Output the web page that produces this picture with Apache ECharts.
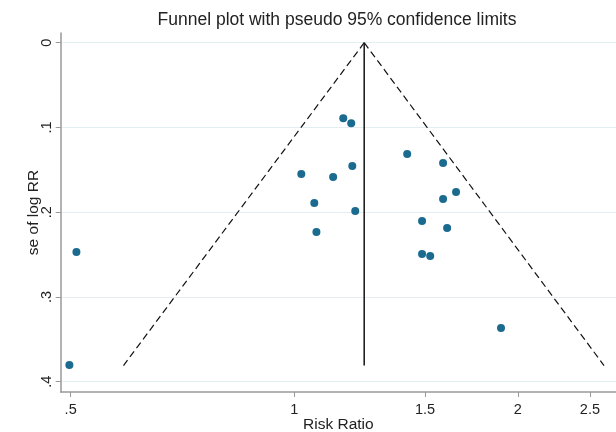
<!DOCTYPE html>
<html>
<head>
<meta charset="utf-8">
<script src="https://cdn.jsdelivr.net/npm/echarts@6/dist/echarts.min.js"></script>
<style>html,body{margin:0;padding:0;background:#fff}#c{width:616px;height:432px}</style>
</head>
<body>
<div id="c"></div>
<script>
// Study estimates: [Risk Ratio, se of log RR]
var riskRatio = [1.164, 1.193, 1.419, 1.586, 1.022, 1.128, 1.197, 1.651, 1.586, 1.064, 1.208, 1.486, 1.606, 1.071, 1.486, 1.524, 0.509, 1.898, 0.498];
var seLogRR   = [0.0892, 0.0951, 0.1313, 0.1419, 0.1549, 0.1584, 0.1455, 0.1762, 0.1844, 0.1891, 0.1986, 0.2104, 0.2187, 0.2234, 0.2493, 0.2517, 0.2470, 0.3366, 0.3803];
// Pooled estimate line and pseudo 95% limits
var pooledLine = [[1.242, 0], [1.242, 0.381]];
var lowerLimit = [[1.242, 0], [0.589, 0.381]];
var upperLimit = [[1.242, 0], [2.612, 0.381]];
var xTicks = [0.5, 1, 1.5, 2, 2.5];
var yTicks = [0, 0.1, 0.2, 0.3, 0.4];

var points = riskRatio.map(function (r, i) { return [r, seLogRR[i]]; });
function fmt(v) { var s = String(+v.toFixed(2)); return s.replace(/^0\./, '.'); }
var font = 'Liberation Sans, Arial, sans-serif';
var chart = echarts.init(document.getElementById('c'), null, {renderer: 'canvas'});
chart.setOption({
  animation: false,
  title: {text: 'Funnel plot with pseudo 95% confidence limits', left: 332, textAlign: 'center', top: 6,
    textStyle: {fontFamily: font, fontSize: 17.5, fontWeight: 'normal', color: '#222'}},
  grid: {left: 60.7, top: 33, right: 0, bottom: 40, outerBoundsMode: 'none', containLabel: false},
  xAxis: {type: 'log', logBase: Math.E, min: 0.4848, max: 2.7107, position: 'bottom',
    name: 'Risk Ratio', nameLocation: 'middle', nameGap: 25, nameMoveOverlap: false,
    nameTextStyle: {fontFamily: font, fontSize: 15.5, color: '#222', verticalAlign: 'top'},
    axisLine: {show: true, onZero: false, lineStyle: {color: '#999', width: 1.5}},
    axisTick: {show: true, length: 5, lineStyle: {color: '#999'}, customValues: xTicks},
    axisLabel: {customValues: xTicks, formatter: fmt, fontFamily: font, fontSize: 14.5, color: '#222', margin: 10},
    splitLine: {show: false}, minorTick: {show: false}},
  yAxis: {type: 'value', inverse: true, min: -0.01145, max: 0.4122,
    name: 'se of log RR', nameLocation: 'middle', nameGap: 19, nameMoveOverlap: false,
    nameTextStyle: {fontFamily: font, fontSize: 15.5, color: '#222'},
    axisLine: {show: true, onZero: false, lineStyle: {color: '#999', width: 1.5}},
    axisTick: {show: true, length: 5, lineStyle: {color: '#999'}, customValues: yTicks},
    axisLabel: {customValues: yTicks, formatter: fmt, rotate: 90, fontFamily: font, fontSize: 14.5, color: '#222', margin: 6},
    splitLine: {show: true, lineStyle: {color: '#e3eef1', width: 1}}},
  series: [
    {type: 'line', data: lowerLimit, symbol: 'none', silent: true,
      lineStyle: {color: '#111', width: 1.2, type: [7, 4]}},
    {type: 'line', data: upperLimit, symbol: 'none', silent: true,
      lineStyle: {color: '#111', width: 1.2, type: [7, 4]}},
    {type: 'line', data: pooledLine, symbol: 'none', silent: true,
      lineStyle: {color: '#222', width: 1.6}},
    {type: 'scatter', data: points, symbol: 'circle', symbolSize: 8,
      itemStyle: {color: '#1b6a8f', opacity: 1}}
  ]
});
</script>
</body>
</html>
